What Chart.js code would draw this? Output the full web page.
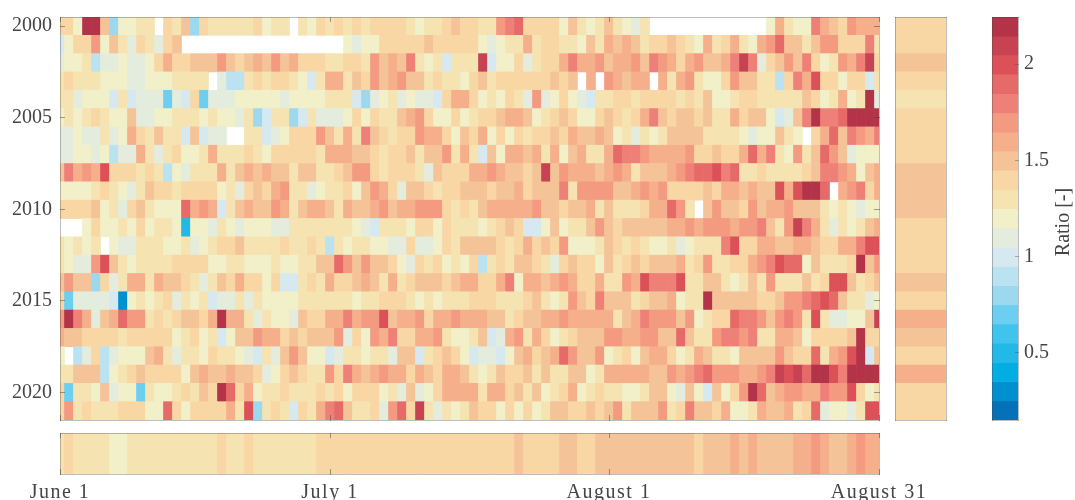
<!DOCTYPE html>
<html>
<head>
<meta charset="utf-8">
<title>Ratio heatmap</title>
<script src="https://cdn.jsdelivr.net/npm/chart.js@4/dist/chart.umd.min.js"></script>
<style>
    html, body { margin: 0; padding: 0; background: #fff; overflow: hidden; }
    #wrap { position: relative; width: 1075px; height: 500px; filter: blur(0.45px); }
    canvas { position: absolute; }
</style>
</head>
<body>
<div id="wrap">
    <canvas id="mainChart" style="left:0;top:0" width="885" height="425"></canvas>
    <canvas id="sideChart" style="left:887px;top:0" width="67" height="425"></canvas>
    <canvas id="barChart" style="left:984px;top:0" width="91" height="425"></canvas>
    <canvas id="bottomChart" style="left:0;top:425px" width="1000" height="75"></canvas>
</div>
<script>
const y2000 = [1.4,1.4,1.2,2.2,2.2,1.5,.8,1.2,1.2,1.3, 1.3,null,1.4,1.3,1.5,.8,1.4,1.3,1.3,1.3, 1.3,1.3,1.4,1.2,1.3,1.3,null,1.3,1.2,1.4, 1.3,1.4,1.3,1.4,1.3,1.4,1.4,1.4,1.4,1.3, 1.2,1.3,1.3,1.4,1.5,1.4,1.4,1.3,1.3,1.7, 1.8,1.9,1.4,1.4,1.4,1.4,1.2,1.5,1.3,1.2, 1.3,1.5,1.3,1.2,1.1,1.3,null,null,null,null, null,null,null,null,null,null,null,null,null,1.2, 1.6,1.3,1.2,1.2,1.8,1.6,1.5,1.4,1.7,1.6,1.6,1.6];
const y2001 = [1.0,1.2,1.4,1.4,1.7,1.2,1.5,1.3,1.1,1.4, 1.3,1.1,1.4,1.5,null,null,null,null,null,null, null,null,null,null,null,null,null,null,null,null, null,null,1.2,1.1,1.2,1.2,1.4,1.4,1.4,1.4, 1.4,1.5,1.4,1.4,1.4,1.4,1.4,1.2,1.1,1.2, 1.3,1.3,1.6,1.3,1.4,1.4,1.3,1.3,1.2,1.5, 1.3,1.6,1.5,1.6,1.5,1.3,1.4,1.4,1.5,1.4, 1.3,1.2,1.6,1.3,1.4,1.6,1.3,1.2,1.6,1.7, 1.9,1.5,1.5,1.3,1.5,1.7,1.7,1.4,1.4,1.4,1.8,1.3];
const y2002 = [1.1,1.2,1.2,1.3,.9,1.1,1.1,1.2,1.1,1.1, 1.2,1.4,1.6,1.4,1.4,1.5,1.5,1.5,1.7,1.5, 1.4,1.5,1.6,1.5,1.7,1.5,1.6,1.4,1.4,1.4, 1.3,1.3,1.4,1.4,1.3,1.7,1.5,1.6,1.5,1.8, 1.3,1.2,1.3,1.0,1.3,1.3,1.3,2.1,1.0,1.2, 1.2,1.4,1.1,1.3,1.4,1.4,1.6,1.8,1.6,1.6, 1.7,1.5,1.6,1.6,1.7,1.5,1.8,1.7,1.6,1.4, 1.6,1.7,1.5,1.5,1.6,1.8,2.1,1.8,1.1,1.4, 1.5,1.7,1.5,1.8,1.4,1.2,1.3,1.7,1.6,1.8,2.1,1.4];
const y2003 = [1.3,1.4,1.3,1.3,1.3,1.2,1.2,1.2,1.1,1.1, 1.2,1.2,1.2,1.3,1.3,1.3,1.3,null,1.1,.9, .9,1.3,1.4,1.3,1.4,1.4,1.3,1.2,1.0,1.3, 1.6,1.6,1.3,1.5,1.4,1.7,1.5,1.6,1.7,1.5, 1.5,1.3,1.4,1.3,1.3,1.2,1.4,1.5,1.3,1.4, 1.4,1.4,1.4,1.4,1.4,1.5,1.4,1.5,null,1.6, null,1.7,1.6,1.5,1.6,1.6,null,1.6,1.3,1.6, 1.7,1.3,1.2,1.2,1.4,1.7,1.5,1.5,1.3,1.3, .9,1.4,1.8,1.6,2.0,1.4,1.4,1.2,1.4,1.4,1.0,1.3];
const y2004 = [1.3,1.3,1.1,1.2,1.2,1.2,1.0,1.3,1.0,1.1, 1.1,1.1,.7,1.1,1.0,1.4,.7,1.1,1.1,1.1, 1.2,1.2,1.2,1.2,1.2,1.1,1.2,1.2,1.2,1.2, 1.3,1.3,1.3,1.0,.8,1.1,1.2,1.3,1.1,1.2, 1.1,1.1,1.0,1.4,1.6,1.6,1.4,1.2,1.3,1.2, 1.4,1.3,1.1,1.7,1.1,1.2,1.4,1.2,1.1,1.0, 1.3,1.3,1.4,1.4,1.3,1.4,1.4,1.4,1.4,1.3, 1.4,1.3,1.5,1.2,1.2,1.3,1.4,1.4,1.3,1.3, 1.3,1.3,1.3,1.5,1.4,1.2,1.3,1.6,1.2,1.3,2.2,1.1];
const y2005 = [1.2,1.3,1.2,1.3,1.4,1.3,1.2,1.2,1.5,1.1, 1.1,1.2,1.2,1.3,1.3,1.3,1.2,1.3,1.2,1.2, 1.1,1.3,.8,1.0,1.3,1.3,.8,1.0,1.3,1.1, 1.1,1.1,1.2,1.4,1.2,1.4,1.3,1.3,1.5,1.6, 1.7,1.4,1.2,1.2,1.4,1.2,1.3,1.4,1.4,1.5, 1.6,1.6,1.5,1.2,1.3,1.4,1.5,1.4,1.2,1.2, 1.4,1.5,1.4,1.3,1.4,1.6,1.8,1.5,1.4,1.5, 1.5,1.4,1.5,1.3,1.3,1.6,1.4,1.5,1.5,1.2, 1.0,1.1,1.5,1.8,2.2,1.8,1.8,1.9,2.2,2.2,2.2,2.2];
const y2006 = [1.1,1.1,1.2,1.1,1.1,1.3,1.1,1.2,1.6,1.4, 1.3,1.5,1.3,1.3,1.0,1.5,1.0,1.1,1.1,null, null,1.3,1.3,1.0,1.1,1.2,1.4,1.4,1.4,1.7, 1.5,1.3,1.6,1.3,1.8,1.5,1.4,1.3,1.4,1.4, 1.7,1.6,1.6,1.4,1.2,1.5,1.4,1.6,1.2,1.4, 1.2,1.4,1.3,1.4,1.4,1.5,1.4,1.6,1.5,1.5, 1.6,1.5,1.2,1.3,1.1,1.3,1.2,1.3,1.5,1.5, 1.5,1.5,1.3,1.3,1.3,1.3,1.2,1.1,1.2,1.2, 1.5,1.3,1.2,null,1.4,1.6,1.9,1.5,1.8,1.7,1.6,1.8];
const y2007 = [1.1,1.1,1.2,1.2,1.1,1.2,.9,1.1,1.1,1.6, 1.3,1.1,1.3,1.4,1.2,1.2,1.3,1.6,1.3,1.3, 1.3,1.4,1.3,1.2,1.4,1.4,1.4,1.4,1.4,1.3, 1.6,1.6,1.6,1.5,1.5,1.4,1.3,1.4,1.4,1.5, 1.3,1.5,1.5,1.7,1.3,1.6,1.3,1.0,1.5,1.2, 1.6,1.6,1.5,1.6,1.3,1.6,1.2,1.5,1.6,1.3, 1.3,1.6,1.9,1.8,1.8,1.7,1.6,1.6,1.6,1.6, 1.7,1.4,1.4,1.5,1.4,1.4,1.6,1.9,1.6,1.8, 1.3,1.2,1.7,1.3,1.5,1.9,1.7,1.5,1.1,1.2,1.2,1.2];
const y2008 = [1.5,1.8,1.6,1.7,1.6,2.0,1.4,1.4,1.4,1.3, 1.4,1.3,.9,1.2,1.1,1.3,1.3,1.3,1.6,1.3, 1.5,1.6,1.5,1.6,1.5,1.5,1.3,1.5,1.5,1.3, 1.3,1.4,1.5,1.7,1.7,1.4,1.3,1.4,1.4,1.4, 1.3,1.1,1.5,1.4,1.4,1.4,1.6,1.6,1.7,1.6, 1.5,1.5,1.4,1.5,2.1,1.5,1.7,1.6,1.6,1.6, 1.5,1.6,1.7,1.6,1.3,1.5,1.5,1.5,1.6,1.7, 1.8,1.9,1.9,2.0,1.8,1.9,1.3,1.3,1.4,1.3, 1.3,1.3,1.3,1.4,1.5,1.8,1.8,1.7,1.6,1.2,1.5,1.6];
const y2009 = [1.2,1.2,1.2,1.2,1.3,1.4,1.3,1.2,1.1,1.3, 1.5,1.4,1.4,1.3,1.4,1.4,1.4,1.4,1.2,1.3, 1.1,1.4,1.5,1.4,1.6,1.7,1.3,1.3,1.1,1.2, 1.3,1.3,1.4,1.2,1.5,1.7,1.6,1.4,1.1,1.5, 1.5,1.4,1.3,1.4,1.4,1.5,1.5,1.5,1.4,1.5, 1.5,1.6,1.4,1.5,1.5,1.5,1.8,1.3,1.7,1.7, 1.7,1.7,1.5,1.5,1.6,1.7,1.6,1.7,1.4,1.4, 1.4,1.4,1.5,1.4,1.6,1.6,1.5,1.6,1.5,1.5, 2.0,1.6,2.0,2.2,2.2,1.9,null,1.6,1.7,1.8,1.4,1.6];
const y2010 = [1.4,1.4,1.4,1.4,1.5,1.2,1.3,1.1,1.4,1.5, 1.3,1.2,1.2,1.2,1.9,1.6,1.7,1.6,1.0,1.3, 1.5,1.6,1.5,1.5,1.7,1.6,1.3,1.5,1.6,1.6, 1.5,1.3,1.6,1.5,1.5,1.6,1.7,1.5,1.6,1.6, 1.7,1.7,1.7,1.4,1.3,1.4,1.3,1.5,1.6,1.6, 1.6,1.6,1.6,1.7,1.5,1.5,1.4,1.5,1.5,1.6, 1.3,1.5,1.3,1.3,1.3,1.4,1.6,1.6,1.9,1.7, 1.3,null,1.5,1.7,1.5,1.5,1.4,1.7,1.5,1.6, 1.6,1.7,1.5,1.5,1.5,1.3,1.2,1.3,1.2,1.1,1.2,1.2];
const y2011 = [null,null,null,1.2,1.4,1.2,1.2,1.3,1.2,1.4, 1.2,1.3,1.3,1.2,.5,1.2,1.2,1.1,1.3,1.2, 1.1,1.2,1.2,1.2,1.1,1.1,1.3,1.3,1.3,1.3, 1.3,1.3,1.3,1.2,1.1,1.0,1.3,1.3,1.3,1.2, 1.4,1.4,1.2,1.4,1.3,1.3,1.3,1.2,1.3,1.4, 1.5,1.4,1.0,1.0,1.2,1.5,1.2,1.3,1.3,1.5, 1.7,1.5,1.4,1.5,1.5,1.5,1.5,1.5,1.6,1.6, 1.7,1.6,1.7,1.7,1.7,1.6,1.7,1.7,1.8,1.5, 1.3,1.7,2.1,1.8,1.6,1.3,1.1,1.3,1.2,1.3,1.5,1.6];
const y2012 = [1.3,1.2,1.3,1.2,1.3,null,1.2,1.1,1.1,1.3, 1.3,1.3,1.2,1.2,1.3,1.1,1.2,1.3,1.4,1.4, 1.5,1.3,1.3,1.3,1.3,1.4,1.3,1.3,1.4,1.3, .9,1.3,1.2,1.3,1.3,1.2,1.2,1.1,1.1,1.4, 1.1,1.1,1.2,1.4,1.3,1.5,1.5,1.5,1.5,1.4, 1.3,1.4,1.6,1.4,1.5,1.4,1.7,1.2,1.2,1.2, 1.3,1.5,1.4,1.3,1.4,1.3,1.2,1.2,1.3,1.1, 1.2,1.3,1.3,1.3,1.8,2.0,1.4,1.4,1.6,1.6, 1.5,1.5,1.6,1.6,1.5,1.4,1.4,1.6,1.6,1.8,2.0,2.0];
const y2013 = [1.3,1.2,1.1,1.1,1.7,2.0,1.5,1.3,1.2,1.3, 1.3,1.3,1.3,1.4,1.4,1.4,1.4,1.2,1.2,1.3, 1.3,1.2,1.2,1.2,1.3,1.2,1.2,1.3,1.3,1.5, 1.5,1.9,1.7,1.5,1.7,1.5,1.5,1.4,1.2,1.1, 1.4,1.3,1.4,1.2,1.3,1.2,1.4,.9,1.3,1.4, 1.3,1.5,1.5,1.4,1.3,1.1,1.4,1.5,1.4,1.4, 1.2,1.5,1.3,1.4,1.5,1.4,1.5,1.5,1.5,1.6, 1.3,1.4,1.7,1.3,1.3,1.4,1.4,1.6,1.7,1.8, 2.0,1.9,1.9,1.2,1.5,1.3,1.3,1.3,1.4,2.2,1.5,1.7];
const y2014 = [1.5,1.7,1.5,1.5,.8,1.4,1.1,1.3,1.6,1.6, 1.3,1.6,1.5,1.5,1.4,1.3,1.1,1.3,1.5,1.4, 1.6,1.4,1.4,1.2,1.4,1.0,1.0,1.3,1.4,1.3, 1.6,1.4,1.4,1.5,1.6,1.5,1.3,1.6,1.3,1.4, 1.5,1.5,1.5,1.4,1.5,1.6,1.6,1.4,1.4,1.6, 1.8,1.2,1.6,1.6,1.5,1.6,1.7,1.6,1.4,1.4, 1.6,1.3,1.3,1.7,1.6,2.0,1.8,1.8,1.8,2.0, 1.3,1.3,1.5,1.5,1.3,1.2,1.3,1.5,1.3,1.7, 1.3,1.3,1.3,1.5,1.3,1.4,2.0,2.0,1.5,1.3,1.4,1.5];
const y2015 = [1.4,.7,1.1,1.1,1.1,1.1,1.0,.3,1.2,1.3, 1.2,1.3,1.4,1.1,1.3,1.2,1.3,1.0,1.1,1.1, 1.3,1.1,1.3,1.2,1.2,1.2,1.2,1.3,1.3,1.3, 1.3,1.3,1.3,1.2,1.3,1.3,1.4,1.4,1.4,1.3, 1.2,1.3,1.2,1.3,1.3,1.3,1.4,1.4,1.4,1.3, 1.3,1.3,1.4,1.5,1.3,1.2,1.3,1.7,1.5,1.4, 1.8,1.5,1.5,1.5,1.3,1.4,1.5,1.5,1.6,1.2, 1.3,1.3,2.2,1.5,1.5,1.5,1.5,1.5,1.4,1.4, 1.5,1.7,1.7,1.8,1.9,2.0,1.9,1.5,1.3,1.3,1.1,1.2];
const y2016 = [1.7,2.2,1.8,1.6,1.1,1.5,1.6,1.9,1.7,1.7, 1.3,1.4,1.3,1.4,1.5,1.5,1.4,1.6,2.2,1.6, 1.6,1.3,1.1,1.3,1.2,1.2,1.1,1.5,1.4,1.4, 1.6,1.6,1.8,1.6,1.7,1.7,2.0,1.5,1.6,1.6, 1.7,1.4,1.6,1.6,1.7,1.6,1.6,1.6,1.5,1.5, 1.3,1.4,1.5,1.5,1.6,1.6,1.7,1.6,1.6,1.6, 1.6,1.6,1.3,1.5,1.6,1.8,1.7,1.7,1.7,1.5, 1.7,1.2,1.3,1.4,1.4,1.9,1.8,1.8,1.7,1.5, 1.7,1.8,1.7,1.3,2.0,1.3,1.1,1.1,1.2,1.2,1.5,2.1];
const y2017 = [1.6,1.5,1.5,1.4,1.4,1.4,1.4,1.3,1.4,1.4, 1.4,1.4,1.4,1.2,1.3,1.4,1.2,1.3,1.0,1.2, 1.5,1.5,1.7,1.6,1.6,1.4,1.5,1.4,1.5,1.5, 1.5,1.7,1.1,1.4,1.2,1.7,1.6,1.8,1.4,1.4, 1.6,1.6,1.7,1.3,1.2,1.2,1.3,1.5,1.0,1.1, 1.6,1.7,1.3,1.6,1.4,1.2,1.3,1.4,1.5,1.5, 1.5,1.7,1.7,1.6,1.6,1.7,1.7,1.5,1.5,1.9, 1.5,1.3,1.3,1.7,1.8,1.8,1.7,1.8,1.3,1.3, 1.6,1.6,1.5,1.2,1.4,1.4,1.4,1.4,1.5,2.2,1.4,1.4];
const y2018 = [1.2,null,.9,1.1,1.4,.9,1.1,1.2,1.2,1.2, 1.5,1.6,1.3,1.1,1.3,1.3,1.2,1.4,1.3,1.3, 1.2,1.1,1.0,1.3,1.1,1.5,1.7,1.5,1.2,1.2, 1.0,1.1,1.3,1.3,1.2,1.3,1.3,1.1,1.5,1.5, 1.0,1.3,1.4,1.5,1.4,1.2,1.0,1.1,1.1,1.0, 1.2,1.5,1.6,1.4,1.5,1.6,1.9,1.7,1.5,1.5, 1.7,1.2,1.3,1.4,1.2,1.5,1.6,1.6,1.4,1.2, 1.3,1.6,1.5,1.3,1.3,1.2,1.5,1.5,1.5,1.5, 1.7,1.5,1.4,1.4,1.9,1.3,1.6,1.7,2.0,2.2,1.0,1.5];
const y2019 = [1.3,1.3,1.5,1.5,1.5,.9,1.2,1.3,1.4,1.5, 1.4,1.4,1.4,1.4,1.2,1.5,1.6,1.5,1.5,1.6, 1.5,1.5,1.4,1.1,1.2,1.4,1.5,1.4,1.3,1.3, 1.7,1.4,1.8,1.6,1.5,1.6,1.7,1.6,1.6,1.4, 1.6,1.5,1.4,1.6,1.6,1.5,1.3,1.2,1.3,1.5, 1.4,1.4,1.5,1.3,1.5,1.3,1.3,1.5,1.5,1.2, 1.3,1.6,1.6,1.6,1.6,1.6,1.5,1.5,1.7,1.6, 1.7,1.8,1.9,1.7,1.7,1.7,1.6,1.6,1.7,1.8, 2.1,2.0,2.1,1.9,2.2,2.2,2.0,1.8,2.2,2.2,2.2,2.2];
const y2020 = [1.4,.7,1.3,1.3,1.2,1.5,1.1,1.2,1.2,.7, 1.3,1.2,1.2,1.3,1.4,1.3,1.5,1.4,2.2,1.9, 1.4,1.6,1.2,1.3,1.3,1.4,1.3,1.3,1.3,1.4, 1.3,1.4,1.2,1.4,1.4,1.4,1.2,1.3,1.1,1.5, 1.1,1.2,1.4,1.6,1.6,1.6,1.6,1.3,1.6,1.6, 1.4,1.5,1.3,1.5,1.2,1.3,1.4,1.6,1.2,1.3, 1.4,1.3,1.3,1.2,1.2,1.3,1.5,1.5,1.2,1.1, 1.5,1.2,1.0,1.5,1.2,1.4,1.7,2.2,1.9,1.5, 1.6,1.7,1.7,1.6,1.6,1.8,1.7,1.7,2.0,1.4,1.2,1.3];
const y2021 = [1.4,1.7,1.3,1.4,1.3,1.3,1.3,1.4,1.4,1.4, 1.2,1.2,1.9,1.4,1.2,1.4,1.4,1.4,1.4,1.6, 1.3,2.0,.8,1.3,1.4,1.3,1.0,1.4,1.3,1.6, 1.8,1.9,1.5,1.3,1.3,1.4,1.1,1.7,1.9,1.4, 2.1,1.3,1.1,1.3,1.2,1.3,1.5,1.4,1.4,1.2, 1.4,1.2,1.4,1.2,1.3,1.5,1.5,1.4,1.4,1.5, 1.4,1.5,1.7,1.3,1.5,1.5,1.5,1.7,1.3,1.4, 1.8,1.5,1.5,1.4,1.6,1.2,1.2,1.3,1.6,1.5, 1.5,1.6,1.3,1.4,1.9,1.1,1.2,1.2,1.1,1.3,2.0,2.0];

const years = [2000,2001,2002,2003,2004,2005,2006,2007,2008,2009,2010,2011,2012,2013,2014,2015,2016,2017,2018,2019,2020,2021];
const yearRows = [y2000,y2001,y2002,y2003,y2004,y2005,y2006,y2007,y2008,y2009,y2010,y2011,y2012,y2013,y2014,y2015,y2016,y2017,y2018,y2019,y2020,y2021];
const yearMean = [1.4,1.4,1.5,1.4,1.3,1.4,1.4,1.4,1.5,1.5,1.5,1.4,1.4,1.4,1.5,1.4,1.6,1.5,1.4,1.6,1.4,1.4];
const dayMean = [1.3,1.4,1.3,1.3,1.3,1.3,1.2,1.2,1.3,1.3, 1.3,1.3,1.3,1.3,1.3,1.3,1.3,1.3,1.4,1.3, 1.3,1.4,1.3,1.3,1.3,1.3,1.3,1.3,1.3,1.4, 1.4,1.4,1.4,1.4,1.4,1.4,1.4,1.4,1.4,1.4, 1.4,1.4,1.4,1.4,1.4,1.4,1.4,1.4,1.4,1.4, 1.4,1.5,1.4,1.4,1.4,1.4,1.5,1.5,1.4,1.4, 1.5,1.5,1.5,1.5,1.5,1.5,1.5,1.5,1.5,1.5, 1.5,1.4,1.5,1.5,1.5,1.6,1.5,1.6,1.5,1.5, 1.5,1.5,1.6,1.6,1.7,1.6,1.5,1.5,1.6,1.7,1.6,1.6];

const yearTicks = [2000,2005,2010,2015,2020];
const dayTicks = [1,31,62,92];
const dayLabels = ["June 1","July 1","August 1","August 31"];
const ratioTicks = [0.5,1,1.5,2];

// colorbar, one entry per level, bottom to top
const levelValues = [0.202,0.301,0.401,0.501,0.600,0.700,0.800,0.899,0.999,1.098,1.198,1.298,1.397,1.497,1.597,1.696,1.796,1.895,1.995,2.095,2.194];
const levelColors = ["#0571b8","#0090d0","#00aee4","#22b8e8","#40c4ee","#6ccff0","#9cd8ee","#bbe2f0","#d6e9f1","#e4ecdd","#f1f0c9","#f6e3b2","#f8d7a5","#f5c398","#f5af8a","#f39a80","#ef8078","#e66a68","#dc5058","#c74252","#b33348"];
const ratioMin = 0.152;
const ratioMax = 2.244;

const font = { family: "'Liberation Serif', serif", size: 20 };
const textColor = "#454545";
const frameColor = "rgba(70,70,70,0.35)";

function colorOf(value) {
    let index = levelValues.findIndex(v => Math.abs(v - value) < 0.051);
    return levelColors[index < 0 ? 0 : index];
}

// axis with the ticks pointing into the plot, drawn above the cells
function frameAxis(axis, position, min, max, ticks, size, extra) {
    return Object.assign({
        type: "linear",
        axis: axis,
        position: position,
        min: min,
        max: max,
        offset: false,
        afterBuildTicks: scale => { scale.ticks = ticks.map(v => ({ value: v })); },
        afterFit: scale => {
            if (axis === "x") scale.height = size; else scale.width = size;
            // the plot rectangle is fixed, labels must not push it inwards
            scale.paddingTop = scale.paddingBottom = scale.paddingLeft = scale.paddingRight = 0;
        },
        border: { display: true, color: frameColor, width: 1, z: 1 },
        grid: { offset: false, drawOnChartArea: false, tickLength: -5, color: "rgba(70,70,70,0.5)", z: 1 },
        ticks: { display: false, autoSkip: false, maxRotation: 0 }
    }, extra || {});
}

function labelTicks(callback, padding) {
    return { ticks: { display: true, font: font, color: textColor, autoSkip: false, maxRotation: 0, padding: padding, callback: callback } };
}

function baseOptions(padding, scales, indexAxis) {
    return {
        responsive: false,
        animation: false,
        indexAxis: indexAxis,
        layout: { padding: padding },
        plugins: { legend: { display: false }, tooltip: { enabled: false } },
        scales: scales
    };
}

function barDataset(data) {
    return {
        data: data,
        barPercentage: 1,
        categoryPercentage: 1,
        backgroundColor: ctx => colorOf(ctx.raw.value)
    };
}

let mainCells = [];
yearRows.forEach((row, r) => {
    row.forEach((value, d) => {
        if (value !== null) {
            mainCells.push({ x: d + 1, y: [years[r] - 0.5, years[r] + 0.5], value: value });
        }
    });
});

new Chart(document.getElementById("mainChart"), {
    type: "bar",
    data: { datasets: [barDataset(mainCells)] },
    options: baseOptions({ top: 17, right: 6, bottom: 5, left: 0 }, {
        x: frameAxis("x", "bottom", 1, 92, dayTicks, 0),
        x2: frameAxis("x", "top", 1, 92, dayTicks, 0),
        y: frameAxis("y", "left", 1999.5, 2021.5, yearTicks, 60, Object.assign({ reverse: true }, labelTicks(v => String(v), 13))),
        y2: frameAxis("y", "right", 1999.5, 2021.5, yearTicks, 0, { reverse: true })
    }, "x")
});

new Chart(document.getElementById("sideChart"), {
    type: "bar",
    data: { datasets: [barDataset(yearMean.map((value, i) => ({ x: [0, 1], y: years[i], value: value })))] },
    options: baseOptions({ top: 17, right: 8, bottom: 5, left: 8 }, {
        x: frameAxis("x", "bottom", 0, 1, [], 0),
        x2: frameAxis("x", "top", 0, 1, [], 0),
        y: frameAxis("y", "left", 1999.5, 2021.5, [], 0, { reverse: true }),
        y2: frameAxis("y", "right", 1999.5, 2021.5, [], 0, { reverse: true })
    }, "y")
});

new Chart(document.getElementById("barChart"), {
    type: "bar",
    data: { datasets: [barDataset(levelValues.map(value => ({ x: [0, 1], y: value, value: value })))] },
    options: baseOptions({ top: 17, right: 0, bottom: 5, left: 8 }, {
        x: frameAxis("x", "bottom", 0, 1, [], 0),
        x2: frameAxis("x", "top", 0, 1, [], 0),
        y: frameAxis("y", "left", ratioMin, ratioMax, [], 0),
        y2: frameAxis("y", "right", ratioMin, ratioMax, ratioTicks, 57, Object.assign(
            { grid: { offset: false, drawOnChartArea: false, tickLength: -3, color: "rgba(70,70,70,0.4)", z: 1 } },
            labelTicks(v => String(v), 9)
        ))
    }, "y"),
    plugins: [{
        id: "ratioTitle",
        afterDraw(chart) {
            let ctx = chart.ctx;
            ctx.save();
            ctx.translate(80, 222);
            ctx.rotate(-Math.PI / 2);
            ctx.font = font.size + "px " + font.family;
            ctx.fillStyle = textColor;
            ctx.textAlign = "center";
            ctx.textBaseline = "middle";
            ctx.fillText("Ratio [-]", 0, 0);
            ctx.restore();
        }
    }]
});

new Chart(document.getElementById("bottomChart"), {
    type: "bar",
    data: { datasets: [barDataset(dayMean.map((value, i) => ({ x: i + 1, y: [0, 1], value: value })))] },
    options: baseOptions({ top: 8, right: 121, bottom: 0, left: 60 }, {
        x: frameAxis("x", "bottom", 1, 92, dayTicks, 26, labelTicks(v => dayLabels[dayTicks.indexOf(v)], 12)),
        x2: frameAxis("x", "top", 1, 92, dayTicks, 0),
        y: frameAxis("y", "left", 0, 1, [], 0),
        y2: frameAxis("y", "right", 0, 1, [], 0)
    }, "x"),
    plugins: [{
        id: "labelSpacing",
        beforeDraw(chart) { chart.ctx.letterSpacing = "1.5px"; }
    }]
});
</script>
</body>
</html>
